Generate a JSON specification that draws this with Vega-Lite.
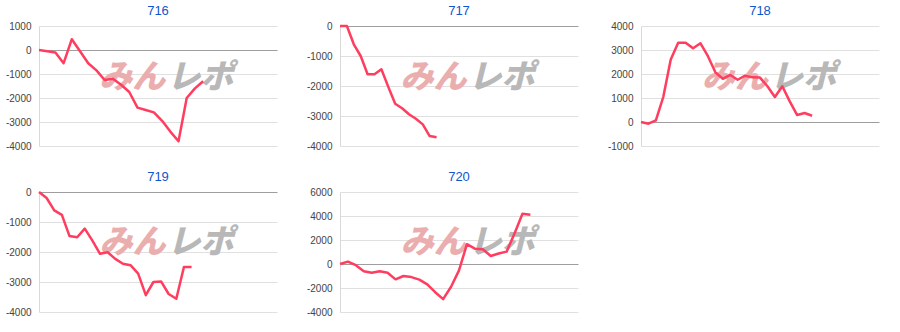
{
  "$schema": "https://vega.github.io/schema/vega-lite/v6.json",
  "background": "white",
  "padding": 5,
  "datasets": {
    "s": [
      {"m":"716","i":0,"v":0},{"m":"716","i":1,"v":-50},{"m":"716","i":2,"v":-100},{"m":"716","i":3,"v":-550},{"m":"716","i":4,"v":450},{"m":"716","i":5,"v":-50},{"m":"716","i":6,"v":-550},{"m":"716","i":7,"v":-850},{"m":"716","i":8,"v":-1250},{"m":"716","i":9,"v":-1200},{"m":"716","i":10,"v":-1450},{"m":"716","i":11,"v":-1750},{"m":"716","i":12,"v":-2400},{"m":"716","i":13,"v":-2500},{"m":"716","i":14,"v":-2600},{"m":"716","i":15,"v":-2950},{"m":"716","i":16,"v":-3400},{"m":"716","i":17,"v":-3800},{"m":"716","i":18,"v":-2000},{"m":"716","i":19,"v":-1600},{"m":"716","i":20,"v":-1300},
      {"m":"717","i":0,"v":0},{"m":"717","i":1,"v":0},{"m":"717","i":2,"v":-610},{"m":"717","i":3,"v":-1000},{"m":"717","i":4,"v":-1610},{"m":"717","i":5,"v":-1610},{"m":"717","i":6,"v":-1440},{"m":"717","i":7,"v":-2030},{"m":"717","i":8,"v":-2590},{"m":"717","i":9,"v":-2740},{"m":"717","i":10,"v":-2940},{"m":"717","i":11,"v":-3090},{"m":"717","i":12,"v":-3280},{"m":"717","i":13,"v":-3670},{"m":"717","i":14,"v":-3710},
      {"m":"718","i":0,"v":0},{"m":"718","i":1,"v":-70},{"m":"718","i":2,"v":70},{"m":"718","i":3,"v":1050},{"m":"718","i":4,"v":2600},{"m":"718","i":5,"v":3300},{"m":"718","i":6,"v":3300},{"m":"718","i":7,"v":3070},{"m":"718","i":8,"v":3280},{"m":"718","i":9,"v":2740},{"m":"718","i":10,"v":2070},{"m":"718","i":11,"v":1800},{"m":"718","i":12,"v":1960},{"m":"718","i":13,"v":1760},{"m":"718","i":14,"v":1930},{"m":"718","i":15,"v":1860},{"m":"718","i":16,"v":1850},{"m":"718","i":17,"v":1490},{"m":"718","i":18,"v":1040},{"m":"718","i":19,"v":1490},{"m":"718","i":20,"v":860},{"m":"718","i":21,"v":290},{"m":"718","i":22,"v":375},{"m":"718","i":23,"v":260},
      {"m":"719","i":0,"v":0},{"m":"719","i":1,"v":-200},{"m":"719","i":2,"v":-610},{"m":"719","i":3,"v":-760},{"m":"719","i":4,"v":-1470},{"m":"719","i":5,"v":-1510},{"m":"719","i":6,"v":-1220},{"m":"719","i":7,"v":-1620},{"m":"719","i":8,"v":-2060},{"m":"719","i":9,"v":-2010},{"m":"719","i":10,"v":-2230},{"m":"719","i":11,"v":-2390},{"m":"719","i":12,"v":-2440},{"m":"719","i":13,"v":-2720},{"m":"719","i":14,"v":-3440},{"m":"719","i":15,"v":-3000},{"m":"719","i":16,"v":-2980},{"m":"719","i":17,"v":-3400},{"m":"719","i":18,"v":-3560},{"m":"719","i":19,"v":-2500},{"m":"719","i":20,"v":-2500},
      {"m":"720","i":0,"v":0},{"m":"720","i":1,"v":200},{"m":"720","i":2,"v":-100},{"m":"720","i":3,"v":-600},{"m":"720","i":4,"v":-730},{"m":"720","i":5,"v":-600},{"m":"720","i":6,"v":-730},{"m":"720","i":7,"v":-1280},{"m":"720","i":8,"v":-1000},{"m":"720","i":9,"v":-1090},{"m":"720","i":10,"v":-1300},{"m":"720","i":11,"v":-1700},{"m":"720","i":12,"v":-2350},{"m":"720","i":13,"v":-2930},{"m":"720","i":14,"v":-1900},{"m":"720","i":15,"v":-530},{"m":"720","i":16,"v":1650},{"m":"720","i":17,"v":1280},{"m":"720","i":18,"v":1230},{"m":"720","i":19,"v":670},{"m":"720","i":20,"v":870},{"m":"720","i":21,"v":1030},{"m":"720","i":22,"v":2540},{"m":"720","i":23,"v":4190},{"m":"720","i":24,"v":4100}
    ],
    "wm": [{"t": "みん", "p": "a"}, {"t": "レポ", "p": "b"}]
  },
  "columns": 3,
  "spacing": {"row": 20, "column": 29},
  "concat": [
    {
      "title": "716", "width": 238, "height": 120,
      "layer": [
        {"data": {"name": "wm"}, "transform": [{"filter": "datum.p === 'a'"}],
         "mark": {"type": "text", "align": "right", "baseline": "middle", "dx": -1, "fontSize": 33, "fontStyle": "italic", "fontWeight": 900, "font": "Noto Sans CJK JP", "color": "#ebaeae"},
         "encoding": {
           "x": {"datum": 15.5, "type": "quantitative", "scale": {"domain": [0, 29], "nice": false, "zero": false}, "axis": null},
           "y": {"datum": -1150, "type": "quantitative", "scale": {"domain": [-4000, 1000], "nice": false}, "axis": {"values": [-4000, -3000, -2000, -1000, 0, 1000], "gridColor": {"condition": {"test": "datum.value === 0", "value": "#9e9e9e"}, "value": "#e0e0e0"}}},
           "text": {"field": "t"}}},
        {"data": {"name": "wm"}, "transform": [{"filter": "datum.p === 'b'"}],
         "mark": {"type": "text", "align": "left", "baseline": "middle", "dx": 1, "fontSize": 33, "fontStyle": "italic", "fontWeight": 900, "font": "Noto Sans CJK JP", "color": "#b8b8b8"},
         "encoding": {
           "x": {"datum": 15.5, "type": "quantitative", "scale": {"domain": [0, 29], "nice": false, "zero": false}, "axis": null},
           "y": {"datum": -1150, "type": "quantitative", "scale": {"domain": [-4000, 1000], "nice": false}, "axis": {"values": [-4000, -3000, -2000, -1000, 0, 1000], "gridColor": {"condition": {"test": "datum.value === 0", "value": "#9e9e9e"}, "value": "#e0e0e0"}}},
           "text": {"field": "t"}}},
        {"data": {"name": "s"}, "transform": [{"filter": "datum.m === '716'"}],
         "mark": {"type": "line", "color": "#ff3d5f", "strokeWidth": 2.5, "strokeJoin": "round"},
         "encoding": {
           "x": {"field": "i", "type": "quantitative", "scale": {"domain": [0, 29], "nice": false, "zero": false}, "axis": null},
           "y": {"field": "v", "type": "quantitative", "scale": {"domain": [-4000, 1000], "nice": false}, "axis": {"values": [-4000, -3000, -2000, -1000, 0, 1000], "gridColor": {"condition": {"test": "datum.value === 0", "value": "#9e9e9e"}, "value": "#e0e0e0"}}}
         }}
      ]
    },
    {
      "title": "717", "width": 238, "height": 120,
      "layer": [
        {"data": {"name": "wm"}, "transform": [{"filter": "datum.p === 'a'"}],
         "mark": {"type": "text", "align": "right", "baseline": "middle", "dx": -1, "fontSize": 33, "fontStyle": "italic", "fontWeight": 900, "font": "Noto Sans CJK JP", "color": "#ebaeae"},
         "encoding": {
           "x": {"datum": 18.5, "type": "quantitative", "scale": {"domain": [0, 34.5], "nice": false, "zero": false}, "axis": null},
           "y": {"datum": -1720, "type": "quantitative", "scale": {"domain": [-4000, 0], "nice": false}, "axis": {"values": [-4000, -3000, -2000, -1000, 0], "gridColor": {"condition": {"test": "datum.value === 0", "value": "#9e9e9e"}, "value": "#e0e0e0"}}},
           "text": {"field": "t"}}},
        {"data": {"name": "wm"}, "transform": [{"filter": "datum.p === 'b'"}],
         "mark": {"type": "text", "align": "left", "baseline": "middle", "dx": 1, "fontSize": 33, "fontStyle": "italic", "fontWeight": 900, "font": "Noto Sans CJK JP", "color": "#b8b8b8"},
         "encoding": {
           "x": {"datum": 18.5, "type": "quantitative", "scale": {"domain": [0, 34.5], "nice": false, "zero": false}, "axis": null},
           "y": {"datum": -1720, "type": "quantitative", "scale": {"domain": [-4000, 0], "nice": false}, "axis": {"values": [-4000, -3000, -2000, -1000, 0], "gridColor": {"condition": {"test": "datum.value === 0", "value": "#9e9e9e"}, "value": "#e0e0e0"}}},
           "text": {"field": "t"}}},
        {"data": {"name": "s"}, "transform": [{"filter": "datum.m === '717'"}],
         "mark": {"type": "line", "color": "#ff3d5f", "strokeWidth": 2.5, "strokeJoin": "round"},
         "encoding": {
           "x": {"field": "i", "type": "quantitative", "scale": {"domain": [0, 34.5], "nice": false, "zero": false}, "axis": null},
           "y": {"field": "v", "type": "quantitative", "scale": {"domain": [-4000, 0], "nice": false}, "axis": {"values": [-4000, -3000, -2000, -1000, 0], "gridColor": {"condition": {"test": "datum.value === 0", "value": "#9e9e9e"}, "value": "#e0e0e0"}}}
         }}
      ]
    },
    {
      "title": "718", "width": 238, "height": 120,
      "layer": [
        {"data": {"name": "wm"}, "transform": [{"filter": "datum.p === 'a'"}],
         "mark": {"type": "text", "align": "right", "baseline": "middle", "dx": -1, "fontSize": 33, "fontStyle": "italic", "fontWeight": 900, "font": "Noto Sans CJK JP", "color": "#ebaeae"},
         "encoding": {
           "x": {"datum": 17.2, "type": "quantitative", "scale": {"domain": [0, 32], "nice": false, "zero": false}, "axis": null},
           "y": {"datum": 1850, "type": "quantitative", "scale": {"domain": [-1000, 4000], "nice": false}, "axis": {"values": [-1000, 0, 1000, 2000, 3000, 4000], "gridColor": {"condition": {"test": "datum.value === 0", "value": "#9e9e9e"}, "value": "#e0e0e0"}}},
           "text": {"field": "t"}}},
        {"data": {"name": "wm"}, "transform": [{"filter": "datum.p === 'b'"}],
         "mark": {"type": "text", "align": "left", "baseline": "middle", "dx": 1, "fontSize": 33, "fontStyle": "italic", "fontWeight": 900, "font": "Noto Sans CJK JP", "color": "#b8b8b8"},
         "encoding": {
           "x": {"datum": 17.2, "type": "quantitative", "scale": {"domain": [0, 32], "nice": false, "zero": false}, "axis": null},
           "y": {"datum": 1850, "type": "quantitative", "scale": {"domain": [-1000, 4000], "nice": false}, "axis": {"values": [-1000, 0, 1000, 2000, 3000, 4000], "gridColor": {"condition": {"test": "datum.value === 0", "value": "#9e9e9e"}, "value": "#e0e0e0"}}},
           "text": {"field": "t"}}},
        {"data": {"name": "s"}, "transform": [{"filter": "datum.m === '718'"}],
         "mark": {"type": "line", "color": "#ff3d5f", "strokeWidth": 2.5, "strokeJoin": "round"},
         "encoding": {
           "x": {"field": "i", "type": "quantitative", "scale": {"domain": [0, 32], "nice": false, "zero": false}, "axis": null},
           "y": {"field": "v", "type": "quantitative", "scale": {"domain": [-1000, 4000], "nice": false}, "axis": {"values": [-1000, 0, 1000, 2000, 3000, 4000], "gridColor": {"condition": {"test": "datum.value === 0", "value": "#9e9e9e"}, "value": "#e0e0e0"}}}
         }}
      ]
    },
    {
      "title": "719", "width": 238, "height": 120,
      "layer": [
        {"data": {"name": "wm"}, "transform": [{"filter": "datum.p === 'a'"}],
         "mark": {"type": "text", "align": "right", "baseline": "middle", "dx": -1, "fontSize": 33, "fontStyle": "italic", "fontWeight": 900, "font": "Noto Sans CJK JP", "color": "#ebaeae"},
         "encoding": {
           "x": {"datum": 16.7, "type": "quantitative", "scale": {"domain": [0, 31.2], "nice": false, "zero": false}, "axis": null},
           "y": {"datum": -1700, "type": "quantitative", "scale": {"domain": [-4000, 0], "nice": false}, "axis": {"values": [-4000, -3000, -2000, -1000, 0], "gridColor": {"condition": {"test": "datum.value === 0", "value": "#9e9e9e"}, "value": "#e0e0e0"}}},
           "text": {"field": "t"}}},
        {"data": {"name": "wm"}, "transform": [{"filter": "datum.p === 'b'"}],
         "mark": {"type": "text", "align": "left", "baseline": "middle", "dx": 1, "fontSize": 33, "fontStyle": "italic", "fontWeight": 900, "font": "Noto Sans CJK JP", "color": "#b8b8b8"},
         "encoding": {
           "x": {"datum": 16.7, "type": "quantitative", "scale": {"domain": [0, 31.2], "nice": false, "zero": false}, "axis": null},
           "y": {"datum": -1700, "type": "quantitative", "scale": {"domain": [-4000, 0], "nice": false}, "axis": {"values": [-4000, -3000, -2000, -1000, 0], "gridColor": {"condition": {"test": "datum.value === 0", "value": "#9e9e9e"}, "value": "#e0e0e0"}}},
           "text": {"field": "t"}}},
        {"data": {"name": "s"}, "transform": [{"filter": "datum.m === '719'"}],
         "mark": {"type": "line", "color": "#ff3d5f", "strokeWidth": 2.5, "strokeJoin": "round"},
         "encoding": {
           "x": {"field": "i", "type": "quantitative", "scale": {"domain": [0, 31.2], "nice": false, "zero": false}, "axis": null},
           "y": {"field": "v", "type": "quantitative", "scale": {"domain": [-4000, 0], "nice": false}, "axis": {"values": [-4000, -3000, -2000, -1000, 0], "gridColor": {"condition": {"test": "datum.value === 0", "value": "#9e9e9e"}, "value": "#e0e0e0"}}}
         }}
      ]
    },
    {
      "title": "720", "width": 238, "height": 120,
      "layer": [
        {"data": {"name": "wm"}, "transform": [{"filter": "datum.p === 'a'"}],
         "mark": {"type": "text", "align": "right", "baseline": "middle", "dx": -1, "fontSize": 33, "fontStyle": "italic", "fontWeight": 900, "font": "Noto Sans CJK JP", "color": "#ebaeae"},
         "encoding": {
           "x": {"datum": 16.1, "type": "quantitative", "scale": {"domain": [0, 30], "nice": false, "zero": false}, "axis": null},
           "y": {"datum": 1750, "type": "quantitative", "scale": {"domain": [-4000, 6000], "nice": false}, "axis": {"values": [-4000, -2000, 0, 2000, 4000, 6000], "gridColor": {"condition": {"test": "datum.value === 0", "value": "#9e9e9e"}, "value": "#e0e0e0"}}},
           "text": {"field": "t"}}},
        {"data": {"name": "wm"}, "transform": [{"filter": "datum.p === 'b'"}],
         "mark": {"type": "text", "align": "left", "baseline": "middle", "dx": 1, "fontSize": 33, "fontStyle": "italic", "fontWeight": 900, "font": "Noto Sans CJK JP", "color": "#b8b8b8"},
         "encoding": {
           "x": {"datum": 16.1, "type": "quantitative", "scale": {"domain": [0, 30], "nice": false, "zero": false}, "axis": null},
           "y": {"datum": 1750, "type": "quantitative", "scale": {"domain": [-4000, 6000], "nice": false}, "axis": {"values": [-4000, -2000, 0, 2000, 4000, 6000], "gridColor": {"condition": {"test": "datum.value === 0", "value": "#9e9e9e"}, "value": "#e0e0e0"}}},
           "text": {"field": "t"}}},
        {"data": {"name": "s"}, "transform": [{"filter": "datum.m === '720'"}],
         "mark": {"type": "line", "color": "#ff3d5f", "strokeWidth": 2.5, "strokeJoin": "round"},
         "encoding": {
           "x": {"field": "i", "type": "quantitative", "scale": {"domain": [0, 30], "nice": false, "zero": false}, "axis": null},
           "y": {"field": "v", "type": "quantitative", "scale": {"domain": [-4000, 6000], "nice": false}, "axis": {"values": [-4000, -2000, 0, 2000, 4000, 6000], "gridColor": {"condition": {"test": "datum.value === 0", "value": "#9e9e9e"}, "value": "#e0e0e0"}}}
         }}
      ]
    }
  ],
  "config": {
    "view": {"stroke": null},
    "title": {"fontSize": 13, "font": "Liberation Sans", "color": "#1155cc", "fontWeight": "normal", "anchor": "middle", "offset": 3},
    "axisY": {
      "title": null,
      "ticks": false,
      "labelPadding": 8,
      "labelFont": "Liberation Sans",
      "labelFontSize": 10,
      "labelColor": "#444444",
      "labelExpr": "'' + datum.value",
      "domain": true,
      "domainColor": "#d9d9d9",
      "grid": true
    }
  }
}
